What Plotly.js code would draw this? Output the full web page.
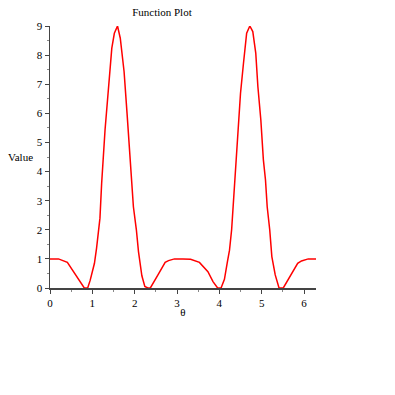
<!DOCTYPE html>
<html>
<head>
<meta charset="utf-8">
<script src="https://cdn.plot.ly/plotly-3.0.1.min.js"></script>
<style>html,body{margin:0;padding:0;background:#fff;}#plot{width:395px;height:395px;}</style>
</head>
<body>
<div id="plot"></div>
<script>
var theta = [0, 0.2, 0.41, 0.56, 0.71, 0.81, 0.89, 0.95, 1.05, 1.1, 1.18, 1.22, 1.3, 1.38, 1.46, 1.52, 1.595, 1.66, 1.75, 1.82, 1.9, 1.97, 2.04, 2.09, 2.17, 2.24, 2.31, 2.37, 2.55, 2.72, 2.8, 2.94, 3.14, 3.32, 3.53, 3.73, 3.85, 3.96, 4.04, 4.12, 4.19, 4.24, 4.29, 4.34, 4.38, 4.44, 4.5, 4.57, 4.645, 4.72, 4.79, 4.86, 4.91, 4.98, 5.04, 5.09, 5.13, 5.19, 5.24, 5.32, 5.41, 5.51, 5.68, 5.85, 5.94, 6.1, 6.283];
var values = [1.0, 1.0, 0.88, 0.56, 0.22, 0.0, 0.0, 0.27, 0.85, 1.37, 2.4, 3.6, 5.43, 6.98, 8.24, 8.75, 9.0, 8.58, 7.43, 6.0, 4.4, 2.79, 2.0, 1.25, 0.42, 0.05, 0.0, 0.0, 0.45, 0.88, 0.94, 1.0, 1.0, 0.99, 0.88, 0.56, 0.22, 0.0, 0.0, 0.3, 0.9, 1.3, 2.0, 3.14, 3.94, 5.2, 6.69, 7.72, 8.75, 9.0, 8.81, 8.07, 6.92, 5.77, 4.4, 3.71, 2.79, 2.0, 1.08, 0.45, 0.0, 0.0, 0.45, 0.85, 0.93, 1.0, 1.0];
var xTicks = [0, 1, 2, 3, 4, 5, 6];
var yTicks = [0, 1, 2, 3, 4, 5, 6, 7, 8, 9];

var font = {family: '"Liberation Serif", "Times New Roman", "DejaVu Serif", serif', size: 11, color: '#000'};

var trace = {
  x: theta, y: values, type: 'scatter', mode: 'lines',
  line: {color: '#ff0000', width: 1.5}, hoverinfo: 'none'
};

var axisCommon = {
  showgrid: false, zeroline: false, showline: true, linecolor: '#444', linewidth: 1.5,
  ticks: 'outside', ticklen: 4, tickwidth: 1, tickcolor: '#444',
  tickfont: font, tickmode: 'array',
  minor: {dtick: 0.5, ticks: 'outside', ticklen: 2, tickcolor: '#888', tickwidth: 1}
};

var layout = {
  width: 395, height: 395,
  margin: {l: 50, r: 79, t: 26, b: 107},
  paper_bgcolor: '#fff', plot_bgcolor: '#fff',
  showlegend: false,
  title: {text: 'Function Plot', font: font, xref: 'container', yref: 'container', x: 0.41, y: 0.97, xanchor: 'center', yanchor: 'middle'},
  xaxis: Object.assign({}, axisCommon, {range: [0, 6.283], tickvals: xTicks, ticktext: xTicks.map(String),
    title: {text: 'θ', font: font, standoff: 0}}),
  yaxis: Object.assign({}, axisCommon, {range: [0, 9], tickvals: yTicks, ticktext: yTicks.map(String)}),
  annotations: [{text: 'Value', xref: 'paper', yref: 'paper', x: (20 - 50) / 266, y: (288 - 157) / 262,
    showarrow: false, font: font, xanchor: 'center', yanchor: 'middle'}]
};

Plotly.newPlot('plot', [trace], layout, {displayModeBar: false, staticPlot: true});
</script>
</body>
</html>
